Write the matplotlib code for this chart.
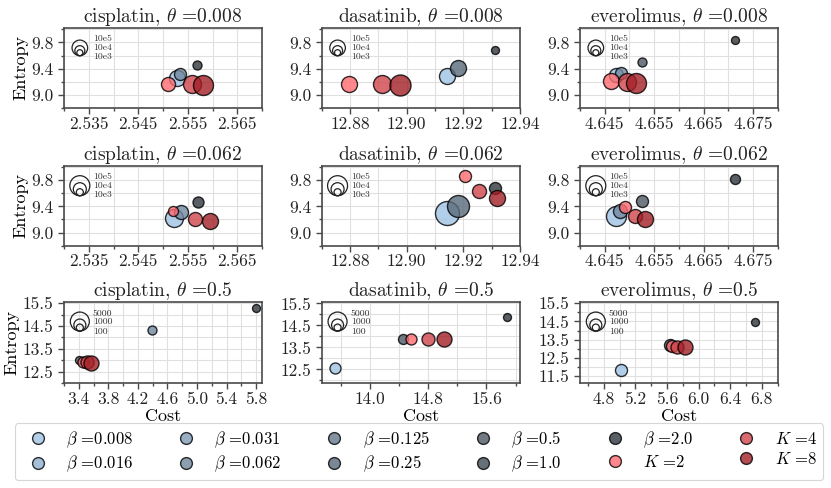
import matplotlib
matplotlib.use("Agg")
import matplotlib.pyplot as plt
import numpy as np
from matplotlib.lines import Line2D
from matplotlib.ticker import MultipleLocator, FormatStrFormatter, FixedLocator
from matplotlib.transforms import ScaledTranslation

plt.rcParams['font.family'] = 'serif'
plt.rcParams['font.serif'] = ['cmr10', 'DejaVu Serif']
plt.rcParams['mathtext.fontset'] = 'cm'
plt.rcParams['axes.formatter.use_mathtext'] = True
plt.rcParams['axes.unicode_minus'] = False

# ---------------- data ----------------
series_labels = [r"$\beta$ =0.008", r"$\beta$ =0.016", r"$\beta$ =0.031", r"$\beta$ =0.062",
                 r"$\beta$ =0.125", r"$\beta$ =0.25", r"$\beta$ =0.5", r"$\beta$ =1.0",
                 r"$\beta$ =2.0", r"$K$ =2", r"$K$ =4", r"$K$ =8"]
series_colors = ["#9fc3e4", "#8eafcf", "#7f9ab4", "#71889f", "#66788b", "#59697a",
                 "#4d5965", "#414b55", "#31373e", "#ff6b70", "#d0454b", "#a11f26"]

drugs = ["cisplatin", "dasatinib", "everolimus"]
thetas = ["0.008", "0.062", "0.5"]

p1_series = [0, 3, 8, 9, 10, 11]
p1_cost = [2.5528, 2.5535, 2.5569, 2.5510, 2.5558, 2.5580]
p1_entropy = [9.25, 9.32, 9.457, 9.17, 9.16, 9.15]
p1_size = [133, 75, 42, 102, 168, 207]

p2_series = [0, 5, 8, 9, 10, 11]
p2_cost = [12.9142, 12.9182, 12.9313, 12.8796, 12.8914, 12.8977]
p2_entropy = [9.29, 9.41, 9.69, 9.17, 9.16, 9.157]
p2_size = [133, 133, 33, 133, 168, 229]

p3_series = [0, 3, 6, 8, 9, 10, 11]
p3_cost = [4.6473, 4.6483, 4.6525, 4.6714, 4.6463, 4.6495, 4.6513]
p3_entropy = [9.30, 9.34, 9.50, 9.83, 9.21, 9.20, 9.18]
p3_size = [102, 75, 42, 33, 133, 168, 207]

p4_series = [0, 3, 8, 9, 10, 11]
p4_cost = [2.5523, 2.5537, 2.5570, 2.5521, 2.5565, 2.5595]
p4_entropy = [9.23, 9.31, 9.46, 9.335, 9.21, 9.175]
p4_size = [168, 102, 63, 52, 102, 133]

p5_series = [0, 5, 8, 9, 10, 11]
p5_cost = [12.9141, 12.9182, 12.9312, 12.9206, 12.9256, 12.9318]
p5_entropy = [9.295, 9.41, 9.685, 9.86, 9.635, 9.52]
p5_size = [299, 251, 75, 75, 102, 133]

p6_series = [0, 3, 6, 8, 9, 10, 11]
p6_cost = [4.6472, 4.6480, 4.6525, 4.6714, 4.6491, 4.6511, 4.6532]
p6_entropy = [9.26, 9.335, 9.485, 9.82, 9.395, 9.26, 9.21]
p6_size = [207, 102, 75, 52, 75, 102, 133]

p7_series = [3, 6, 8, 9, 10, 11]
p7_cost = [4.39, 3.40, 5.80, 3.456, 3.51, 3.57]
p7_entropy = [14.32, 13.01, 15.28, 12.94, 12.91, 12.88]
p7_size = [42, 33, 33, 63, 88, 117]

p8_series = [0, 6, 8, 9, 10, 11]
p8_cost = [13.52, 14.46, 15.88, 14.56, 14.80, 15.02]
p8_entropy = [12.56, 13.87, 14.86, 13.87, 13.87, 13.87]
p8_size = [63, 52, 33, 63, 88, 117]

p9_series = [0, 6, 8, 9, 10, 11]
p9_cost = [5.02, 5.64, 6.716, 5.66, 5.73, 5.83]
p9_entropy = [11.85, 13.19, 14.45, 13.14, 13.12, 13.10]
p9_size = [75, 75, 33, 75, 88, 117]

size_legend_top = ["10e5", "10e4", "10e3"]
size_legend_bottom = ["5000", "1000", "100"]

panels = [
    (p1_series, p1_cost, p1_entropy, p1_size),
    (p2_series, p2_cost, p2_entropy, p2_size),
    (p3_series, p3_cost, p3_entropy, p3_size),
    (p4_series, p4_cost, p4_entropy, p4_size),
    (p5_series, p5_cost, p5_entropy, p5_size),
    (p6_series, p6_cost, p6_entropy, p6_size),
    (p7_series, p7_cost, p7_entropy, p7_size),
    (p8_series, p8_cost, p8_entropy, p8_size),
    (p9_series, p9_cost, p9_entropy, p9_size),
]

# ---------------- layout / styles ----------------
W, H = 831, 488
fig = plt.figure(figsize=(W / 100, H / 100), dpi=100)

col_px = [(64, 262), (321.7, 520), (580, 777.7)]
row_px = [(28, 108), (165.7, 245.7), (302.3, 383.3)]

xlims = [(2.530, 2.570), (12.87, 12.94), (4.640, 4.680)] * 2 + [(3.20, 5.88), (13.34, 16.06), (4.50, 7.00)]
ylims = [(8.8, 10.02)] * 6 + [(11.99, 15.54), (11.87, 15.55), (11.10, 15.55)]
xmaj = [0.01, 0.02, 0.01] * 2 + [0.4, 0.8, 0.4]
xmin = [0.005, 0.01, 0.005] * 2 + [0.2, 0.4, 0.2]
xfmt = ['%.3f', '%.2f', '%.3f'] * 2 + ['%.1f', '%.1f', '%.1f']
xoff = [0.005, 0.0, 0.005] * 2 + [0.2, 0.4, 0.0]
ymin = [0.2] * 6 + [0.5, 0.5, 0.5]
size_leg_r = [[7.8, 5.0, 3.0], [10.0, 6.5, 3.5], [9.5, 6.0, 3.5]]
size_leg_base = [0.654, 0.625, 0.645]

spine_c = '#4a4a4a'
alpha = 0.8

for i, (ser, cost, ent, sz) in enumerate(panels):
    r, c = divmod(i, 3)
    x0, x1 = col_px[c]
    y0, y1 = row_px[r]
    ax = fig.add_axes([x0 / W, 1 - y1 / H, (x1 - x0) / W, (y1 - y0) / H])
    for s_idx, xv, yv, sv in zip(ser, cost, ent, sz):
        ax.scatter([xv], [yv], s=sv, color=series_colors[s_idx], alpha=alpha,
                   edgecolor='black', linewidth=1.0, zorder=3)
    ax.set_xlim(*xlims[i])
    ax.set_ylim(*ylims[i])
    lo, hi = xlims[i]
    start = np.ceil((lo - xoff[i]) / xmaj[i] - 1e-9) * xmaj[i] + xoff[i]
    majors = np.arange(start, hi + 1e-9, xmaj[i])
    ax.xaxis.set_major_locator(FixedLocator(majors))
    ax.xaxis.set_minor_locator(MultipleLocator(xmin[i]))
    ax.xaxis.set_major_formatter(FormatStrFormatter(xfmt[i]))
    if r < 2:
        ax.yaxis.set_major_locator(FixedLocator([9.0, 9.4, 9.8]))
    else:
        ax.yaxis.set_major_locator(FixedLocator(np.arange(11.5, 15.6, 1.0)))
    ax.yaxis.set_major_formatter(FormatStrFormatter('%.1f'))
    ax.yaxis.set_minor_locator(MultipleLocator(ymin[i]))
    ax.grid(True, which='both', color='#e0e0e0', linewidth=0.8, zorder=0)
    ax.set_axisbelow(True)
    ax.tick_params(which='both', direction='out', colors=spine_c, labelcolor='#222222',
                   labelsize=12.5, width=1.0)
    ax.tick_params(which='major', length=4)
    ax.tick_params(which='minor', length=2.5)
    ax.tick_params(axis='x', pad=2)
    for sp in ax.spines.values():
        sp.set_color(spine_c)
        sp.set_linewidth(1.2)
    ax.set_title(f"{drugs[c]}, " + r"$\theta$ =" + thetas[r], fontsize=14, pad=3, color='#222222')
    if c == 0:
        ax.set_ylabel("Entropy", fontsize=13, labelpad=2)
    if r == 2:
        ax.set_xlabel("Cost", fontsize=13, labelpad=1)

    # size legend (concentric circles)
    labels = size_legend_top if r < 2 else size_legend_bottom
    base = size_leg_base[r]
    for rad in size_leg_r[r]:
        tr = ax.transAxes + ScaledTranslation(0, rad / 100, fig.dpi_scale_trans)
        ax.scatter([0.08], [base], s=(2 * rad * 0.72) ** 2, transform=tr,
                   facecolor='none', edgecolor='#222222', linewidth=0.9, zorder=5,
                   clip_on=False)
    for k, lab in enumerate(labels):
        ax.text(0.146, [0.86, 0.754, 0.641][k], lab, transform=ax.transAxes,
                fontsize=7, va='center', ha='left', color='#333333')

handles = [Line2D([0], [0], marker='o', linestyle='none', markersize=8.5,
                  markerfacecolor=series_colors[k], markeredgecolor='black',
                  markeredgewidth=1.0, alpha=alpha, label=series_labels[k])
           for k in range(len(series_labels))]
leg = fig.legend(handles=handles, ncol=6, loc='lower left',
                 bbox_to_anchor=(15 / W, 8 / H, 808 / W, 52 / H), mode='expand',
                 fontsize=12, frameon=True, fancybox=True, edgecolor='#cccccc',
                 handletextpad=0.7, borderaxespad=0, labelspacing=0.25,
                 borderpad=0.35)
leg.get_frame().set_linewidth(0.8)

fig.savefig("out.png", dpi=100)
